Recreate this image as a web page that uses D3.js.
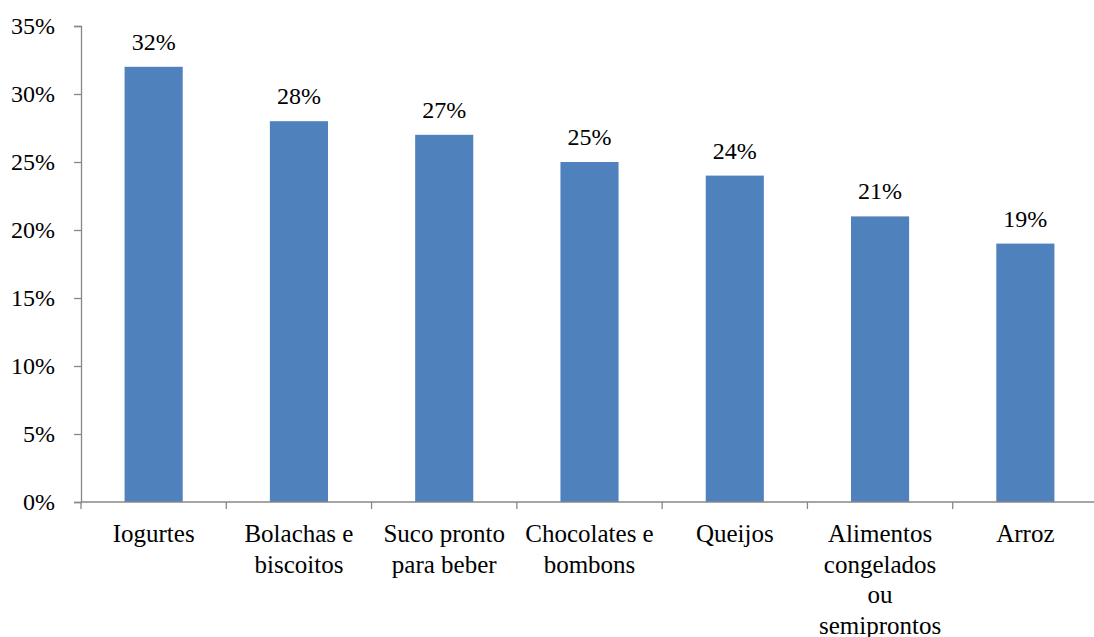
<!DOCTYPE html>
<html><head><meta charset="utf-8">
<script src="https://cdn.jsdelivr.net/npm/d3@7"></script>
<style>body{margin:0;background:#fff}svg{display:block}svg text{font-family:"Liberation Serif","Times New Roman",serif !important;fill:#000}</style>
</head><body><svg id="c" width="1094" height="637"></svg>
<script>
const categories = ["Iogurtes", "Bolachas e\nbiscoitos", "Suco pronto\npara beber", "Chocolates e\nbombons", "Queijos", "Alimentos\ncongelados\nou\nsemiprontos", "Arroz"];
const values = [0.32, 0.28, 0.27, 0.25, 0.24, 0.21, 0.19];
const yTicks = [0, 0.05, 0.10, 0.15, 0.20, 0.25, 0.30, 0.35];

const svg = d3.select("#c");
const x = d3.scaleBand().domain(categories).range([81, 1098]).paddingInner(0.6).paddingOuter(0.3);
const y = d3.scaleLinear().domain([0, 0.35]).range([502, 26]);
const fmt = d3.format(".0%");
const axisColor = "#878787";

// y axis
const ya = svg.append("g").attr("transform", "translate(81,0)")
  .call(d3.axisLeft(y).tickValues(yTicks).tickFormat(fmt).tickSize(7).tickPadding(19));
ya.select(".domain").attr("stroke", axisColor).attr("stroke-width", 1.3);
ya.selectAll(".tick line").attr("stroke", axisColor).attr("stroke-width", 1.3);
ya.selectAll(".tick text").style("font-size", "24px").attr("fill", "#000");

// bars
svg.append("g").selectAll("rect").data(values).join("rect")
  .attr("x", (d, i) => x(categories[i]))
  .attr("width", x.bandwidth())
  .attr("y", d => y(d))
  .attr("height", d => y(0) - y(d))
  .attr("fill", "#4F81BD");

// value labels
svg.append("g").selectAll("text").data(values).join("text")
  .attr("x", (d, i) => x(categories[i]) + x.bandwidth() / 2)
  .attr("y", d => y(d) - 17)
  .attr("text-anchor", "middle").style("font-size", "24px")
  .text(d => fmt(d));

// x axis
const step = x.step();
const xb = d3.scaleLinear().domain([0, categories.length]).range([81, 81 + step * categories.length]);
const g = svg.append("g");
g.append("line").attr("x1", 81).attr("x2", 1098).attr("y1", y(0)).attr("y2", y(0))
  .attr("stroke", axisColor).attr("stroke-width", 1.3);
g.selectAll("line.t").data(d3.range(categories.length + 1)).join("line").attr("class", "t")
  .attr("x1", d => xb(d)).attr("x2", d => xb(d)).attr("y1", y(0)).attr("y2", y(0) + 7)
  .attr("stroke", axisColor).attr("stroke-width", 1.3);

const lab = svg.append("g").selectAll("text").data(categories).join("text")
  .attr("text-anchor", "middle").style("font-size", "25px")
  .attr("transform", d => `translate(${x(d) + x.bandwidth() / 2},${y(0) + 40})`);
lab.selectAll("tspan").data(d => d.split("\n")).join("tspan")
  .attr("x", 0).attr("dy", (d, i) => i === 0 ? 0 : 30.5).text(d => d);
</script></body></html>
